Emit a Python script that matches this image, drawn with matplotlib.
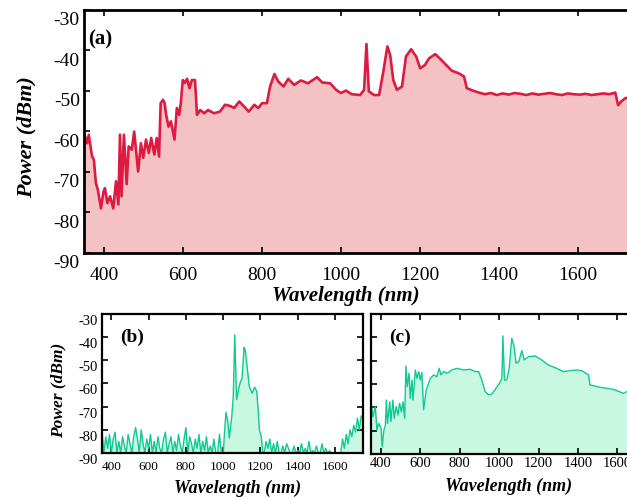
import numpy as np
import matplotlib.pyplot as plt
import matplotlib.transforms as mtransforms

plt.rcParams['font.family'] = ['Liberation Serif', 'DejaVu Serif']
plt.rcParams['axes.unicode_minus'] = False

# ---- panel (a): supercontinuum spectrum ----
wl_a = [350, 358, 362, 370, 375, 380, 385, 393, 399, 403, 409, 416, 424, 431, 437,
        441, 445, 451, 458, 463, 471, 477, 487, 494, 500, 507, 514, 520, 528, 534,
        540, 544, 550, 554, 558, 564, 570, 575, 579, 585, 591, 595, 600, 605, 611,
        617, 623, 631, 636, 644, 654, 664, 679, 694, 707, 720, 730, 743, 755, 767,
        781, 791, 801, 813, 821, 832, 842, 855, 867, 882, 899, 917, 940, 953, 973,
        988, 1000, 1013, 1028, 1049, 1059, 1065, 1071, 1084, 1097, 1107, 1118, 1125,
        1133, 1142, 1155, 1165, 1178, 1191, 1201, 1213, 1223, 1239, 1251, 1267,
        1281, 1298, 1312, 1319, 1334, 1350, 1365, 1380, 1395, 1410, 1425, 1440,
        1455, 1470, 1485, 1500, 1515, 1530, 1545, 1560, 1575, 1590, 1605, 1620,
        1635, 1650, 1665, 1680, 1695, 1702, 1710, 1720, 1735, 1750]
pw_a = [-60.4, -62.9, -60.8, -66.0, -67.0, -72.7, -74.4, -79.0, -75.0, -74.0, -77.7,
        -76.0, -79.0, -72.3, -78.0, -60.8, -76.0, -60.8, -73.0, -63.7, -64.5, -60.0,
        -69.9, -62.9, -66.5, -62.0, -65.3, -61.6, -65.7, -61.6, -66.2, -53.0, -52.2,
        -53.0, -55.9, -58.8, -57.5, -60.0, -62.0, -54.2, -55.9, -53.0, -47.3, -48.0,
        -47.0, -49.3, -47.3, -47.3, -55.9, -54.7, -55.5, -54.7, -55.5, -55.1, -53.4,
        -53.7, -54.2, -52.6, -53.8, -55.1, -53.4, -54.2, -53.0, -53.0, -48.9, -45.8,
        -47.7, -48.9, -47.0, -48.5, -47.4, -48.1, -46.6, -47.9, -48.1, -49.7, -50.5,
        -49.9, -50.8, -51.0, -49.7, -38.4, -50.1, -51.0, -51.0, -45.6, -39.0, -41.1,
        -47.3, -49.7, -48.9, -41.5, -39.7, -41.5, -44.4, -43.6, -42.0, -40.9, -42.0,
        -43.6, -45.0, -45.6, -46.4, -49.3, -49.9, -50.4, -50.8, -50.5, -51.0, -50.6,
        -50.9, -50.5, -50.7, -51.0, -50.6, -50.9, -50.7, -50.5, -50.8, -51.0, -50.6,
        -50.8, -50.9, -50.7, -51.0, -50.8, -50.6, -50.8, -50.4, -53.5, -52.6, -51.8,
        -51.5, -51.2]

# ---- panel (b): weak pump, narrow spectrum over noise floor ----
wl_b_noise = list(range(350, 1000, 10))
pw_b_noise = [-81, -90, -83, -88, -82, -90, -84, -81, -90, -85, -90, -83, -87, -90,
              -82, -86, -90, -83, -79, -84, -90, -80, -86, -90, -84, -88, -82, -90,
              -85, -90, -83, -88, -90, -84, -81, -90, -86, -83, -90, -85, -89, -82,
              -87, -90, -84, -79, -90, -83, -86, -90, -84, -88, -82, -90, -85, -89,
              -83, -90, -87, -90, -84, -90, -90, -82, -90]
wl_b_sig = [1001, 1008, 1015, 1024, 1033, 1046, 1054, 1062, 1072, 1081, 1090, 1101,
            1112, 1118, 1126, 1140, 1155, 1169, 1180, 1188, 1194, 1204, 1212]
pw_b_sig = [-89.3, -80.0, -72.5, -76.0, -83.5, -74.2, -65.6, -39.0, -67.0, -63.0,
            -59.9, -57.7, -44.4, -45.5, -51.2, -61.3, -64.2, -61.6, -63.5, -72.0,
            -80.0, -82.8, -89.3]
wl_b_tail = list(range(1220, 1760, 10))
pw_b_tail = [-90, -85, -88, -84, -90, -86, -90, -85, -90, -90, -87, -90, -86, -88,
             -90, -90, -87, -90, -89, -90, -86, -90, -88, -90, -85, -90, -89, -90,
             -87, -90, -90, -86, -90, -88, -90, -89, -90, -90, -90, -90, -90, -90,
             -84, -88, -82, -86, -80, -83, -78, -81, -75, -80, -74, -75]

# ---- panel (c): broad spectrum ----
wl_c = [350, 360, 372, 380, 389, 401, 407, 414, 423, 428, 434, 445, 451, 461, 468,
        478, 487, 495, 504, 512, 521, 527, 534, 543, 549, 558, 563, 575, 583, 592,
        600, 608, 617, 630, 651, 668, 684, 696, 705, 718, 738, 760, 786, 820, 853,
        879, 896, 912, 929, 946, 963, 980, 1002, 1014, 1019, 1027, 1039, 1051, 1064,
        1076, 1086, 1100, 1115, 1127, 1149, 1183, 1216, 1250, 1292, 1326, 1360,
        1394, 1419, 1453, 1461, 1512, 1580, 1630, 1647, 1700, 1750]
pw_c = [-67.6, -74.0, -69.7, -79.7, -76.9, -79.0, -86.9, -80.4, -77.6, -66.9, -76.9,
        -67.6, -76.1, -66.9, -74.7, -69.7, -73.3, -68.3, -71.9, -67.6, -74.7, -52.3,
        -61.1, -55.4, -66.1, -58.3, -66.9, -54.0, -57.6, -54.7, -58.3, -55.1, -71.1,
        -62.6, -57.6, -56.1, -56.9, -53.3, -56.1, -54.7, -55.4, -54.0, -53.3, -54.0,
        -53.7, -54.7, -54.7, -58.3, -63.3, -64.7, -64.3, -62.3, -59.7, -57.6, -39.4,
        -58.3, -58.3, -53.3, -40.4, -44.0, -51.1, -50.4, -45.7, -49.7, -48.3, -48.0,
        -49.7, -51.9, -53.3, -54.7, -54.3, -54.0, -54.3, -56.1, -60.4, -61.4, -62.3,
        -64.0, -63.3, -64.0, -64.5]

wl_b = wl_b_noise + wl_b_sig + wl_b_tail
pw_b = pw_b_noise + pw_b_sig + pw_b_tail

xticks = [400, 600, 800, 1000, 1200, 1400, 1600]
yticks = [-30, -40, -50, -60, -70, -80, -90]

red, pink = '#DC1A42', '#F4C2C3'
green, mint = '#0FC993', '#C9F8E2'

fig = plt.figure(figsize=(6.27, 4.99), dpi=100)
ax_a = fig.add_axes([0.134, 0.493, 0.882, 0.487])
ax_b = fig.add_axes([0.1627, 0.0922, 0.4163, 0.2786])
ax_c = fig.add_axes([0.5917, 0.0902, 0.4402, 0.2806])


def style(ax, lw, xsize, ysize, yoff, xpad, ylabels=True):
    ax.set_xlim(350, 1750)
    ax.set_ylim(-90, -30)
    ax.set_xticks(xticks)
    ax.set_yticks(yticks)
    ax.tick_params(direction='in', top=True, right=True, length=4, width=1.2,
                   pad=3)
    ax.tick_params(axis='x', labelsize=xsize, pad=xpad)
    ax.tick_params(axis='y', labelsize=ysize, labelleft=ylabels)
    for s in ax.spines.values():
        s.set_linewidth(lw)
    off = mtransforms.ScaledTranslation(0, -yoff / 100, fig.dpi_scale_trans)
    for lab in ax.get_yticklabels():
        lab.set_transform(lab.get_transform() + off)


lab_kw = dict(fontweight='bold', fontstyle='italic')

ax_a.fill_between(wl_a, pw_a, -95, color=pink, lw=0)
ax_a.plot(wl_a, pw_a, color=red, lw=1.9)
style(ax_a, 2.0, 14, 14, 9, 10)
ax_a.set_xlabel('Wavelength (nm)', fontsize=15, **lab_kw)
ax_a.xaxis.set_label_coords(0.474, -0.135)
ax_a.set_ylabel('Power (dBm)', fontsize=16, **lab_kw)
ax_a.yaxis.set_label_coords(-0.086, 0.475)
ax_a.text(0.008, 0.88, '(a)', transform=ax_a.transAxes, fontsize=15,
          fontweight='bold', va='center')

ax_b.fill_between(wl_b, pw_b, -95, color=mint, lw=0)
ax_b.plot(wl_b, pw_b, color=green, lw=1.0)
style(ax_b, 1.6, 9.5, 10.5, 6, 6)
ax_b.set_xlabel('Wavelength (nm)', fontsize=13, **lab_kw)
ax_b.xaxis.set_label_coords(0.52, -0.19)
ax_b.set_ylabel('Power (dBm)', fontsize=12.5, **lab_kw)
ax_b.yaxis.set_label_coords(-0.138, 0.45)
ax_b.text(0.07, 0.83, '(b)', transform=ax_b.transAxes, fontsize=14,
          fontweight='bold', va='center')

ax_c.fill_between(wl_c, pw_c, -95, color=mint, lw=0)
ax_c.plot(wl_c, pw_c, color=green, lw=1.0)
style(ax_c, 1.6, 10.5, 10.5, 6, 2, ylabels=False)
ax_c.set_xlabel('Wavelength (nm)', fontsize=13, **lab_kw)
ax_c.xaxis.set_label_coords(0.50, -0.17)
ax_c.text(0.065, 0.83, '(c)', transform=ax_c.transAxes, fontsize=14,
          fontweight='bold', va='center')

fig.savefig('out.png', dpi=100)
